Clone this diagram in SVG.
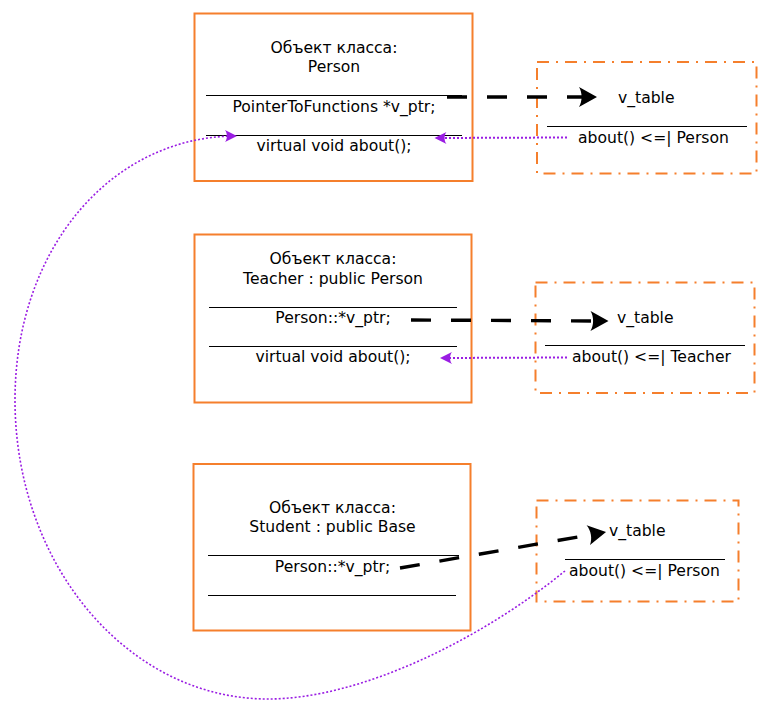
<svg xmlns="http://www.w3.org/2000/svg" width="775" height="712" viewBox="0 0 775 712">
<style>
.box{fill:none;stroke:#f57f2c;stroke-width:2}
.vt{fill:none;stroke:#f57f2c;stroke-width:2;stroke-dasharray:12,7,2,7}
.sep{stroke:#000;stroke-width:1}
text{font-family:"DejaVu Sans","Liberation Sans",sans-serif;font-size:15.6px;fill:#000}
.c{text-anchor:middle}
.ptr{fill:none;stroke:#000;stroke-width:3.4;stroke-dasharray:20,20}
.ref{fill:none;stroke:#9a1de3;stroke-width:2;stroke-dasharray:2,2}
</style>
<defs>
<marker id="ab" viewBox="-20 -11 26 22" refX="-5" refY="0" markerWidth="26" markerHeight="22" markerUnits="userSpaceOnUse" orient="auto">
<path d="M0,0 L-18,-10 C-14.5,-4 -14.5,4 -18,10 Z" fill="#000"/>
</marker>
<marker id="ap" viewBox="-14 -8 18 16" refX="-2" refY="0" markerWidth="18" markerHeight="16" markerUnits="userSpaceOnUse" orient="auto">
<path d="M0,0 L-12,-6 C-9.5,-3 -9.5,3 -12,6 Z" fill="#9a1de3"/>
</marker>
</defs>

<g id="person">
<rect class="box" x="194.5" y="13.5" width="278" height="167.5"/>
<text class="c" x="334" y="53">Объект класса:</text>
<text class="c" x="334" y="72">Person</text>
<line class="sep" x1="206" y1="95.5" x2="462" y2="95.5"/>
<text class="c" x="334" y="112">PointerToFunctions *v_ptr;</text>
<line class="sep" x1="206" y1="135.5" x2="462" y2="135.5"/>
<text class="c" x="334" y="151">virtual void about();</text>
</g>

<g id="vtable-person">
<rect class="vt" x="537" y="62" width="219.5" height="111.5"/>
<text x="618" y="103">v_table</text>
<line class="sep" x1="547" y1="126.5" x2="747" y2="126.5"/>
<text x="578" y="143">about() &lt;=| Person</text>
</g>

<g id="teacher">
<rect class="box" x="194.5" y="234.5" width="277" height="168"/>
<text class="c" x="333" y="264">Объект класса:</text>
<text class="c" x="333" y="284">Teacher : public Person</text>
<line class="sep" x1="209" y1="307.5" x2="457" y2="307.5"/>
<text class="c" x="333" y="323">Person::*v_ptr;</text>
<line class="sep" x1="209" y1="346.5" x2="457" y2="346.5"/>
<text class="c" x="333" y="362">virtual void about();</text>
</g>

<g id="vtable-teacher">
<rect class="vt" x="535.5" y="282.5" width="219" height="110.5"/>
<text x="617" y="323">v_table</text>
<line class="sep" x1="545" y1="345.5" x2="745" y2="345.5"/>
<text x="572" y="362">about() &lt;=| Teacher</text>
</g>

<g id="student">
<rect class="box" x="193.5" y="464" width="277" height="166.5"/>
<text class="c" x="332.5" y="513">Объект класса:</text>
<text class="c" x="332.5" y="532">Student : public Base</text>
<line class="sep" x1="208" y1="555.5" x2="459" y2="555.5"/>
<text class="c" x="332.5" y="572">Person::*v_ptr;</text>
<line class="sep" x1="208" y1="595.5" x2="456" y2="595.5"/>
</g>

<g id="vtable-student">
<rect class="vt" x="536.5" y="500.5" width="202" height="101"/>
<text x="609" y="536">v_table</text>
<line class="sep" x1="565" y1="559.5" x2="725" y2="559.5"/>
<text x="569" y="576">about() &lt;=| Person</text>
</g>

<g id="connectors">
<path class="ptr" d="M447,97 L592,97" marker-end="url(#ab)"/>
<path class="ptr" d="M411,320 L603.5,321" marker-end="url(#ab)"/>
<path class="ptr" d="M400,568 L601.1,532.9" marker-end="url(#ab)"/>
<path class="ref" d="M567,137.5 L436.5,138" marker-end="url(#ap)"/>
<path class="ref" d="M567,357.5 L442,358" marker-end="url(#ap)"/>
<path class="ref" style="stroke-width:1.6" d="M565,571 C480,640 360,699 268,699 C128,699 15,565 15,400 C15,250 110,137 235,136" marker-end="url(#ap)"/>
</g>
</svg>
